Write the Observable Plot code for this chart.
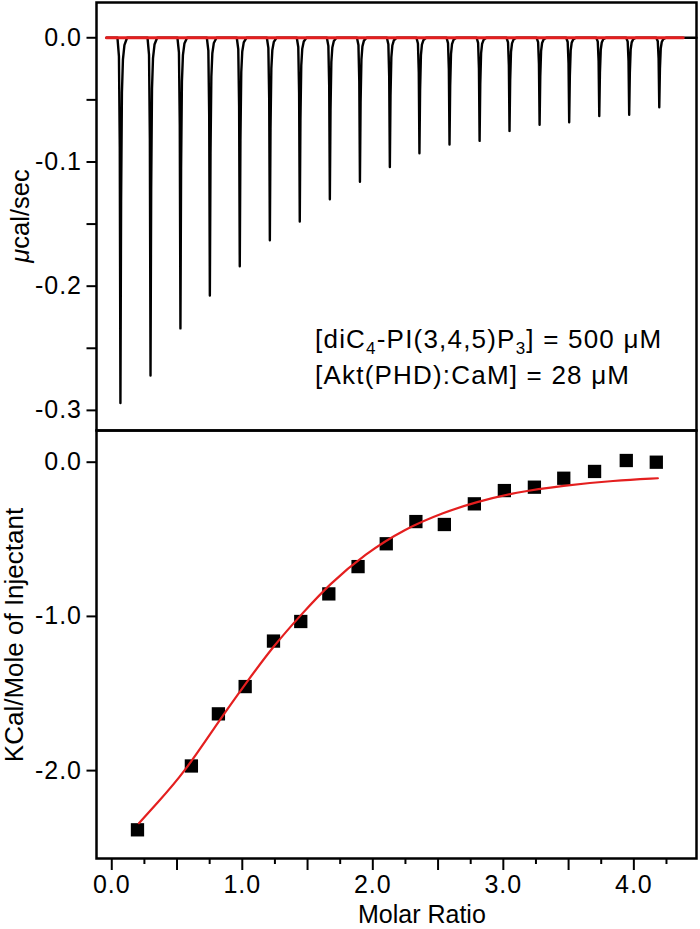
<!DOCTYPE html>
<html>
<head>
<meta charset="utf-8">
<script src="https://cdn.jsdelivr.net/npm/d3@7"></script>
<script src="https://cdn.jsdelivr.net/npm/@observablehq/plot@0.6"></script>
<style>
html, body { margin: 0; padding: 0; background: #fff; }
#chart { width: 700px; }
#chart svg { display: block; overflow: visible; }
</style>
</head>
<body>
<div id="chart"></div>
<script>
const FONT = "'Liberation Sans', Arial, Helvetica, sans-serif";
const RED = "#e41f1f";

// ---- Top panel: raw thermogram ----
const injectionTimes = [144, 325, 505, 682, 862, 1043, 1223, 1404, 1585, 1765, 1943, 2124, 2305, 2485, 2666, 2844, 3025, 3205, 3386];
const peakDepths = [-0.294, -0.272, -0.234, -0.2075, -0.184, -0.163, -0.148, -0.130, -0.116, -0.104, -0.093, -0.086, -0.083, -0.075, -0.070, -0.068, -0.063, -0.062, -0.056];
const peakShapeDt = [-18, -9, -4, 0, 4, 9, 15, 24, 40];
const peakShapeFrac = [0, 0.05, 0.3, 1, 0.45, 0.15, 0.06, 0.02, 0];
const traceTimes = [60, 3610];
const baselineTimes = [60, 3530];
const baselineValues = [0, 0];
const yTopTicks = [0, -0.1, -0.2, -0.3];
const yTopLabels = ["0.0", "-0.1", "-0.2", "-0.3"];
const yTopMinorTicks = [-0.05, -0.15, -0.25];

// ---- Bottom panel: integrated heats ----
const molarRatio = [0.197, 0.610, 0.817, 1.022, 1.239, 1.448, 1.663, 1.887, 2.103, 2.330, 2.548, 2.778, 3.008, 3.238, 3.463, 3.699, 3.942, 4.172];
const heat = [-2.384, -1.970, -1.632, -1.455, -1.160, -1.033, -0.854, -0.677, -0.529, -0.385, -0.404, -0.270, -0.184, -0.162, -0.104, -0.060, 0.011, 0.000];
const fitRatio = [0.208, 0.343, 0.549, 0.823, 1.022, 1.240, 1.457, 1.669, 1.942, 2.244, 2.548, 2.790, 3.094, 3.457, 3.851, 4.184];
const fitHeat = [-2.341, -2.215, -2.021, -1.675, -1.440, -1.190, -0.983, -0.789, -0.594, -0.432, -0.324, -0.259, -0.195, -0.151, -0.119, -0.104];
const xTicks = [0, 1, 2, 3, 4];
const xTickLabels = ["0.0", "1.0", "2.0", "3.0", "4.0"];
const xHalfTicks = [0.5, 1.5, 2.5, 3.5];
const xQuarterTicks = [0.25, 0.75, 1.25, 1.75, 2.25, 2.75, 3.25, 3.75, 4.25];
const yBotTicks = [0, -1, -2];
const yBotLabels = ["0.0", "-1.0", "-2.0"];

// build tables
const trace = [{t: traceTimes[0], v: 0}];
injectionTimes.forEach((t0, i) => {
  peakShapeDt.forEach((dt, j) => trace.push({t: t0 + dt, v: peakDepths[i] * peakShapeFrac[j]}));
});
trace.push({t: traceTimes[1], v: 0});
const baseline = baselineTimes.map((t, i) => ({t, v: baselineValues[i]}));
const points = molarRatio.map((m, i) => ({m, h: heat[i]}));
const fit = fitRatio.map((m, i) => ({m, h: fitHeat[i]}));

const baseStyle = {fontFamily: FONT, fontSize: "25px", color: "black", background: "white", overflow: "visible", letterSpacing: "1px"};

function topText(index, scales, values, dims) {
  const {x, y} = scales;
  const g = d3.create("svg:g").attr("font-family", FONT).attr("fill", "black");
  const cy = (dims.marginTop + dims.height - dims.marginBottom) / 2;
  const lab = g.append("text")
    .attr("transform", `translate(29,${cy}) rotate(-90)`)
    .attr("text-anchor", "middle").attr("font-size", 25.5).attr("letter-spacing", 0);
  lab.append("tspan").attr("font-style", "italic").text("\u03BC");
  lab.append("tspan").text("cal/sec");

  const ax = x(1318);
  const l1 = g.append("text").attr("x", ax).attr("y", y(-0.2502))
    .attr("text-anchor", "start").attr("font-size", 26).attr("letter-spacing", 1.2);
  l1.append("tspan").text("[diC");
  l1.append("tspan").attr("font-size", 17).attr("dy", 6).text("4");
  l1.append("tspan").attr("dy", -6).text("-PI(3,4,5)P");
  l1.append("tspan").attr("font-size", 17).attr("dy", 6).text("3");
  l1.append("tspan").attr("dy", -6).text("] = 500 \u03BCM");
  g.append("text").attr("x", ax).attr("y", y(-0.2792))
    .attr("text-anchor", "start").attr("font-size", 26).attr("letter-spacing", 1.2)
    .text("[Akt(PHD):CaM] = 28 \u03BCM");
  return g.node();
}

function bottomText(index, scales, values, dims) {
  const {x} = scales;
  const g = d3.create("svg:g").attr("font-family", FONT).attr("fill", "black");
  const cy = (dims.marginTop + dims.height - dims.marginBottom) / 2 - 9;
  g.append("text")
    .attr("transform", `translate(22.5,${cy}) rotate(-90)`)
    .attr("text-anchor", "middle").attr("font-size", 26).attr("letter-spacing", 0)
    .text("KCal/Mole of Injectant");
  g.append("text")
    .attr("x", x(2.38)).attr("y", dims.height - 6)
    .attr("text-anchor", "middle").attr("font-size", 25).attr("letter-spacing", 0)
    .text("Molar Ratio");
  return g.node();
}

const topPlot = Plot.plot({
  width: 700, height: 430,
  marginTop: 2, marginBottom: 0, marginLeft: 96, marginRight: 4,
  style: baseStyle,
  x: {domain: [0, 3610], axis: null},
  y: {domain: [-0.3162, 0.0284]},
  marks: [
    Plot.line(trace, {x: "t", y: "v", stroke: "black", strokeWidth: 2.4}),
    Plot.line(baseline, {x: "t", y: "v", stroke: RED, strokeWidth: 3}),
    Plot.frame({stroke: "black", strokeWidth: 2.5}),
    Plot.axisY({ticks: yTopMinorTicks, tickSize: 9.5, tickFormat: () => "", strokeWidth: 2, label: null}),
    Plot.axisY({ticks: yTopTicks, tickSize: 9.5, tickPadding: 5, tickFormat: d => yTopLabels[yTopTicks.indexOf(d)], strokeWidth: 2, label: null}),
    topText
  ]
});

const bottomPlot = Plot.plot({
  width: 700, height: 499,
  marginTop: 0, marginBottom: 71, marginLeft: 96, marginRight: 4,
  style: baseStyle,
  x: {domain: [-0.117, 4.48]},
  y: {domain: [-2.570, 0.2056]},
  marks: [
    Plot.frame({stroke: "black", strokeWidth: 2.5}),
    Plot.dot(points, {x: "m", y: "h", symbol: "square", r: 7.5, fill: "black", stroke: "none"}),
    Plot.line(fit, {x: "m", y: "h", stroke: RED, strokeWidth: 2.2, curve: "basis"}),
    Plot.axisX({ticks: xQuarterTicks, tickSize: 6, tickFormat: () => "", strokeWidth: 2, label: null}),
    Plot.axisX({ticks: xHalfTicks, tickSize: 12, tickFormat: () => "", strokeWidth: 2, label: null}),
    Plot.axisX({ticks: xTicks, tickSize: 12, tickPadding: 5, tickFormat: d => xTickLabels[xTicks.indexOf(d)], strokeWidth: 2, label: null}),
    Plot.axisY({ticks: yBotTicks, tickSize: 9.5, tickPadding: 5, tickFormat: d => yBotLabels[yBotTicks.indexOf(d)], strokeWidth: 2, label: null}),
    bottomText
  ]
});

const chart = document.getElementById("chart");
chart.appendChild(topPlot);
chart.appendChild(bottomPlot);
</script>
</body>
</html>
